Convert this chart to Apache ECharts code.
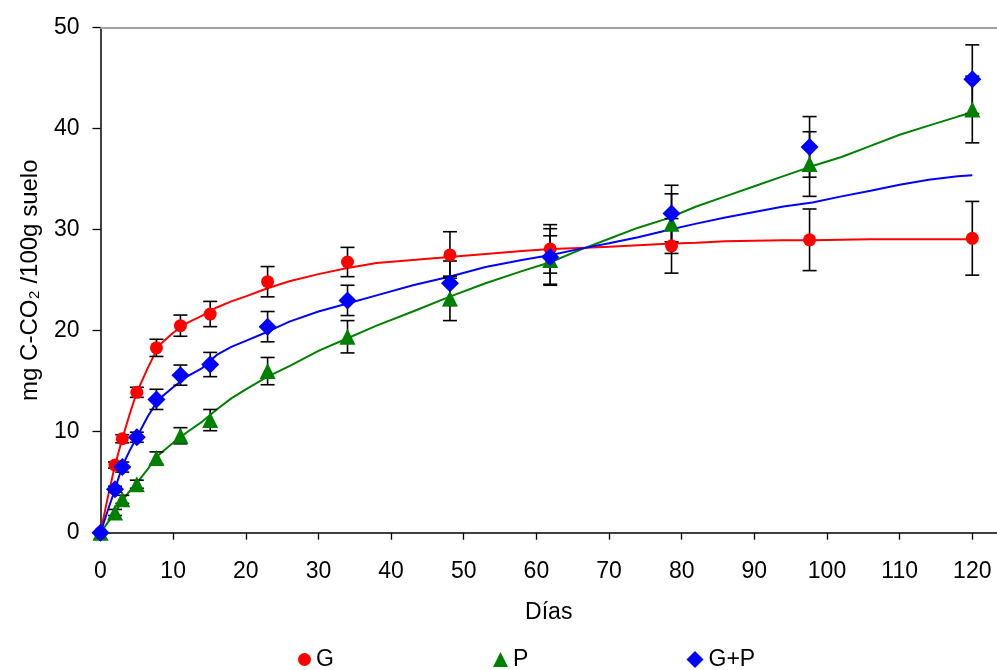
<!DOCTYPE html>
<html>
<head>
<meta charset="utf-8">
<script src="https://cdn.jsdelivr.net/npm/echarts@6/dist/echarts.min.js"></script>
<style>
  html, body { margin: 0; padding: 0; background: #fff; }
  #chart { width: 997px; height: 670px; }
</style>
</head>
<body>
<div id="chart"></div>
<script>
// Sampling days of the measurements
const days = [0, 2, 3, 5, 7.7, 11, 15.1, 23, 34, 48.1, 61.9, 78.6, 97.6, 120];

// Measured cumulative C-CO2 (mg / 100 g soil) and their deviations
const gVals  = [0, 6.7, 9.3, 13.9, 18.3, 20.5, 21.65, 24.85, 26.8, 27.5, 28.1, 28.4, 29.0, 29.15];
const gErr   = [0, 0.3, 0.4, 0.5, 0.85, 1.05, 1.25, 1.5, 1.45, 2.3, 2.4, 2.7, 3.05, 3.65];
const pVals  = [0, 2.0, 3.3, 4.8, 7.4, 9.6, 11.15, 16.0, 19.4, 23.2, 27.0, 30.6, 36.5, 41.9];
const pErr   = [0, 0.3, 0.4, 0.4, 0.6, 0.8, 1.05, 1.35, 1.6, 2.2, 2.4, 2.95, 3.2, 3.3];
const gpVals = [0, 4.3, 6.5, 9.45, 13.2, 15.6, 16.65, 20.4, 23.0, 24.7, 27.3, 31.6, 38.2, 44.9];
const gpErr  = [0, 0.3, 0.5, 0.5, 1.0, 1.0, 1.2, 1.5, 1.5, 2.2, 2.8, 2.8, 3.0, 3.4];

// Fitted curves, sampled along the incubation period
const curveDays = [0, 1, 2, 3, 4, 5, 6.5, 8, 10, 12, 14, 16, 18, 20, 23, 26, 30, 34, 38, 43, 48, 53, 58, 62, 66, 70, 74, 78, 82, 86, 90, 94, 98, 102, 106, 110, 114, 118, 120];
const gCurve  = [0, 3.5, 6.7, 9.3, 11.7, 13.9, 16.3, 18.5, 19.8, 20.8, 21.5, 22.3, 22.9, 23.4, 24.2, 24.9, 25.6, 26.2, 26.7, 27.0, 27.3, 27.6, 27.9, 28.1, 28.2, 28.3, 28.45, 28.6, 28.7, 28.85, 28.9, 28.95, 28.95, 29.0, 29.05, 29.05, 29.05, 29.05, 29.05];
const pCurve  = [0, 1.0, 1.95, 3.2, 4.1, 4.9, 6.3, 7.7, 8.9, 10.0, 11.0, 12.2, 13.3, 14.2, 15.45, 16.5, 18.0, 19.25, 20.5, 21.9, 23.35, 24.7, 25.9, 26.8, 28.0, 29.1, 30.2, 31.1, 32.3, 33.3, 34.3, 35.3, 36.3, 37.2, 38.3, 39.4, 40.3, 41.2, 41.6];
const gpCurve = [0, 2.2, 4.3, 6.6, 8.1, 9.45, 11.5, 13.2, 14.4, 15.5, 16.3, 17.6, 18.4, 19.0, 19.9, 20.9, 21.9, 22.7, 23.5, 24.5, 25.35, 26.3, 27.0, 27.5, 28.1, 28.65, 29.25, 29.95, 30.6, 31.2, 31.75, 32.3, 32.7, 33.3, 33.85, 34.45, 34.95, 35.3, 35.4];

// Axis ticks
const xTicks = [0, 10, 20, 30, 40, 50, 60, 70, 80, 90, 100, 110, 120];

const FONT = "'Liberation Sans', Arial, sans-serif";
const RED = '#ff0000', GREEN = '#008000', BLUE = '#0000ff';
const LABEL_SIZE = 23;

const pairs = (xs, ys) => xs.map((x, i) => [x, ys[i]]);
const errData = (ys, es) => days.map((d, i) => [d, ys[i], es[i]]);

function errorBars(name, ys, es) {
  return {
    name: name,
    type: 'custom',
    z: 3,
    silent: true,
    data: errData(ys, es),
    renderItem: function (params, api) {
      const x = api.value(0), y = api.value(1), e = api.value(2);
      if (!e) return null;
      const hi = api.coord([x, y + e]);
      const lo = api.coord([x, y - e]);
      const w = 7;
      const st = { stroke: '#000', lineWidth: 1.6 };
      return {
        type: 'group',
        children: [
          { type: 'line', shape: { x1: hi[0], y1: hi[1], x2: lo[0], y2: lo[1] }, style: st },
          { type: 'line', shape: { x1: hi[0] - w, y1: hi[1], x2: hi[0] + w, y2: hi[1] }, style: st },
          { type: 'line', shape: { x1: lo[0] - w, y1: lo[1], x2: lo[0] + w, y2: lo[1] }, style: st }
        ]
      };
    }
  };
}

function curve(name, ys, color) {
  return {
    name: name,
    type: 'line',
    z: 2,
    silent: true,
    showSymbol: false,
    symbol: 'none',
    data: pairs(curveDays, ys),
    lineStyle: { color: color, width: 2 }
  };
}

function points(name, ys, color, symbol, size) {
  return {
    name: name,
    type: 'scatter',
    z: 4,
    symbol: symbol,
    symbolSize: size,
    data: pairs(days, ys),
    itemStyle: { color: color, opacity: 1 }
  };
}

function legendAt(name, left, symbol, size) {
  return {
    data: [{ name: name, icon: symbol }],
    left: left,
    top: 648,
    itemWidth: size,
    itemHeight: size,
    itemGap: 0,
    padding: 0,
    textStyle: { fontFamily: FONT, fontSize: LABEL_SIZE, color: '#000' }
  };
}

const chart = echarts.init(document.getElementById('chart'), null, { renderer: 'canvas' });
chart.setOption({
  animation: false,
  backgroundColor: '#fff',
  grid: { left: 100.5, right: 0, top: 27.7, bottom: 137.3, containLabel: false },
  legend: [
    legendAt('G', 298, 'circle', 13),
    legendAt('P', 493, 'triangle', 15),
    legendAt('G+P', 686.5, 'diamond', 17)
  ],
  xAxis: [{
    type: 'value',
    min: 0,
    max: 123.4,
    name: 'Días',
    nameLocation: 'middle',
    nameGap: 68,
    nameTextStyle: { fontFamily: FONT, fontSize: LABEL_SIZE, color: '#000' },
    axisLine: { show: true, onZero: false, lineStyle: { color: '#000', width: 1.5 } },
    axisTick: { show: true, inside: false, length: 7, customValues: xTicks, lineStyle: { color: '#000', width: 1.3 } },
    axisLabel: { customValues: xTicks, margin: 27, fontFamily: FONT, fontSize: LABEL_SIZE, color: '#000' },
    splitLine: { show: false }
  }, {
    type: 'value',
    position: 'top',
    min: 0,
    max: 123.4,
    axisLine: { show: true, onZero: false, lineStyle: { color: '#a0a0a0', width: 2 } },
    axisTick: { show: false },
    axisLabel: { show: false },
    splitLine: { show: false }
  }],
  yAxis: {
    type: 'value',
    min: 0,
    max: 50,
    interval: 10,
    name: 'mg C-CO₂ /100g suelo',
    nameLocation: 'middle',
    nameGap: 58,
    nameTextStyle: { fontFamily: FONT, fontSize: 24, color: '#000' },
    axisLine: { show: true, onZero: false, lineStyle: { color: '#000', width: 1.5 } },
    axisTick: { show: true, inside: false, length: 8, lineStyle: { color: '#000', width: 1.3 } },
    axisLabel: { margin: 21, fontFamily: FONT, fontSize: LABEL_SIZE, color: '#000' },
    splitLine: { show: false }
  },
  series: [
    curve('G ajuste', gCurve, RED),
    curve('P ajuste', pCurve, GREEN),
    curve('G+P ajuste', gpCurve, BLUE),
    errorBars('G desv', gVals, gErr),
    errorBars('P desv', pVals, pErr),
    errorBars('G+P desv', gpVals, gpErr),
    points('G', gVals, RED, 'circle', 13),
    points('P', pVals, GREEN, 'triangle', 16),
    points('G+P', gpVals, BLUE, 'diamond', 18)
  ]
});
</script>
</body>
</html>
